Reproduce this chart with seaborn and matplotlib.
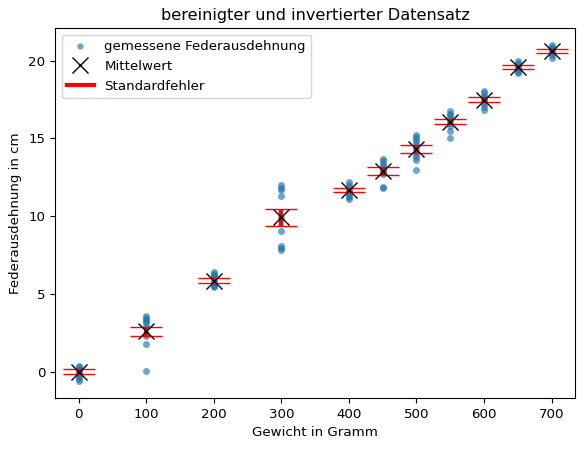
import numpy as np
import pandas
import matplotlib
matplotlib.use("Agg")
import matplotlib.pyplot as plt
import seaborn as sns
from matplotlib.lines import Line2D

plt.rcParams['font.size'] = 9.65

# Gewichte in Gramm
gewichte = [0, 100, 200, 300, 400, 450, 500, 550, 600, 650, 700]

# gemessene Federausdehnung in cm
y_0 = [0.35, 0.3, 0.2, 0.1, 0.0, -0.1, -0.2, -0.35, -0.5, -0.6]
y_100 = [3.55, 3.45, 3.35, 3.25, 3.1, 2.9, 2.4, 2.3, 1.75, 0.05]
y_200 = [6.4, 6.3, 6.2, 6.1, 5.95, 5.8, 5.7, 5.6, 5.5, 5.45]
y_300 = [12.0, 11.8, 11.65, 11.3, 9.9, 9.05, 8.05, 7.95, 7.8]
y_400 = [12.2, 12.0, 11.85, 11.7, 11.6, 11.5, 11.3, 11.2, 11.1]
y_450 = [13.7, 13.55, 13.35, 13.2, 13.0, 12.9, 12.7, 11.9, 11.8]
y_500 = [15.25, 15.1, 14.95, 14.8, 14.6, 14.3, 14.0, 13.8, 13.6, 13.0]
y_550 = [16.75, 16.6, 16.5, 16.3, 16.2, 16.0, 15.8, 15.5, 15.0]
y_600 = [18.05, 17.9, 17.75, 17.6, 17.5, 17.4, 17.2, 17.0, 16.85]
y_650 = [19.95, 19.85, 19.7, 19.6, 19.5, 19.4, 19.3, 19.2]
y_700 = [21.0, 20.9, 20.8, 20.7, 20.6, 20.5, 20.35, 20.2]

# Mittelwert und Standardfehler
mittelwerte = [0.0, 2.6, 5.85, 9.92, 11.67, 12.9, 14.3, 16.06, 17.49, 19.57, 20.62]
standardfehler = [0.16, 0.28, 0.15, 0.54, 0.12, 0.24, 0.27, 0.16, 0.14, 0.13, 0.12]

messungen = [y_0, y_100, y_200, y_300, y_400, y_450, y_500, y_550, y_600, y_650, y_700]
df = pandas.DataFrame({
    'gewicht': np.repeat(gewichte, [len(m) for m in messungen]),
    'dehnung': np.concatenate(messungen),
})

fig, ax = plt.subplots(figsize=(5.84, 4.49))
fig.subplots_adjust(left=0.094, right=0.985, bottom=0.114, top=0.937)

sns.scatterplot(data=df, x='gewicht', y='dehnung', ax=ax, s=25, alpha=0.65,
                color='#1f77b4', linewidth=0, legend=False)
ax.errorbar(gewichte, mittelwerte, yerr=standardfehler, fmt='none', ecolor='red',
            elinewidth=3, capsize=11.5, capthick=1)
ax.plot(gewichte, mittelwerte, 'x', color='black', markersize=12, markeredgewidth=1)

handles = [
    Line2D([], [], marker='o', linestyle='none', color='#1f77b4', alpha=0.65,
           markersize=4.5, markeredgewidth=0),
    Line2D([], [], marker='x', linestyle='none', color='black', markersize=11),
    Line2D([], [], color='red', linewidth=3),
]
ax.legend(handles, ['gemessene Federausdehnung', 'Mittelwert', 'Standardfehler'],
          loc='upper left')

ax.set_title('bereinigter und invertierter Datensatz')
ax.set_xlabel('Gewicht in Gramm')
ax.set_ylabel('Federausdehnung in cm')
ax.set_xticks([0, 100, 200, 300, 400, 500, 600, 700])

plt.savefig('out.png', dpi=100)
